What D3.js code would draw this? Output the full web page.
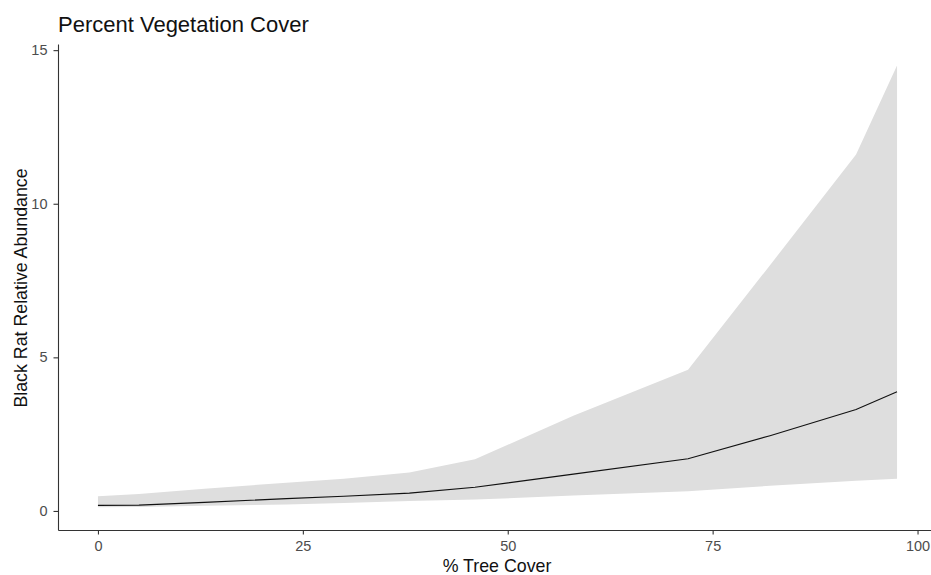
<!DOCTYPE html>
<html><head><meta charset="utf-8">
<script src="https://cdn.jsdelivr.net/npm/d3@7"></script>
<style>body{margin:0;background:#fff}svg{display:block}text{font-family:"Liberation Sans",Arial,sans-serif}</style>
</head><body>
<svg id="c" width="931" height="575"></svg>
<script>
const treeCover = [0, 5, 13, 23, 30, 38, 46, 58, 72, 82, 92.5, 97.5];
const fitValues = [0.18, 0.19, 0.28, 0.40, 0.48, 0.58, 0.77, 1.20, 1.70, 2.45, 3.30, 3.88];
const upperCI   = [0.48, 0.55, 0.72, 0.92, 1.05, 1.25, 1.68, 3.10, 4.60, 8.00, 11.6, 14.5];
const lowerCI   = [0.12, 0.13, 0.17, 0.21, 0.26, 0.32, 0.37, 0.50, 0.64, 0.82, 0.98, 1.05];
const xTicks = [0, 25, 50, 75, 100];
const yTicks = [0, 5, 10, 15];
const title = "Percent Vegetation Cover";
const xTitle = "% Tree Cover";
const yTitle = "Black Rat Relative Abundance";

const data = treeCover.map((x,i)=>({x, fit:fitValues[i], lo:lowerCI[i], hi:upperCI[i]}));
const svg = d3.select("#c");
const x = d3.scaleLinear().domain([-4.875, 102.375]).range([58, 937]);
const y = d3.scaleLinear().domain([-0.62, 15.2]).range([530, 44]);

svg.append("path").datum(data)
  .attr("d", d3.area().x(d=>x(d.x)).y0(d=>y(d.lo)).y1(d=>y(d.hi)))
  .attr("fill", "#dedede");
svg.append("path").datum(data)
  .attr("d", d3.line().x(d=>x(d.x)).y(d=>y(d.fit)))
  .attr("fill", "none").attr("stroke", "#111").attr("stroke-width", 1.1);

const gx = svg.append("g").attr("transform", "translate(0,530)")
  .call(d3.axisBottom(x).tickValues(xTicks).tickSize(4.5).tickPadding(6).tickSizeOuter(0));
const gy = svg.append("g").attr("transform", "translate(58,0)")
  .call(d3.axisLeft(y).tickValues(yTicks).tickSize(4.5).tickPadding(6).tickSizeOuter(0));
[gx, gy].forEach(g=>{
  g.select(".domain").attr("stroke", "#333").attr("stroke-width", 1.1);
  g.selectAll(".tick line").attr("stroke", "#333").attr("stroke-width", 1.1);
  g.selectAll(".tick text").attr("fill", "#4d4d4d").attr("font-size", 14.5)
   .attr("font-family", "Liberation Sans, Arial, sans-serif");
});

svg.append("text").attr("x", 58).attr("y", 32).attr("font-size", 22).attr("fill", "#111").text(title);
svg.append("text").attr("x", 497).attr("y", 572).attr("text-anchor", "middle").attr("font-size", 17.8).attr("fill", "#111").text(xTitle);
svg.append("text").attr("transform", "translate(27,288) rotate(-90)").attr("text-anchor", "middle").attr("font-size", 17.8).attr("fill", "#111").text(yTitle);
</script>
</body></html>
